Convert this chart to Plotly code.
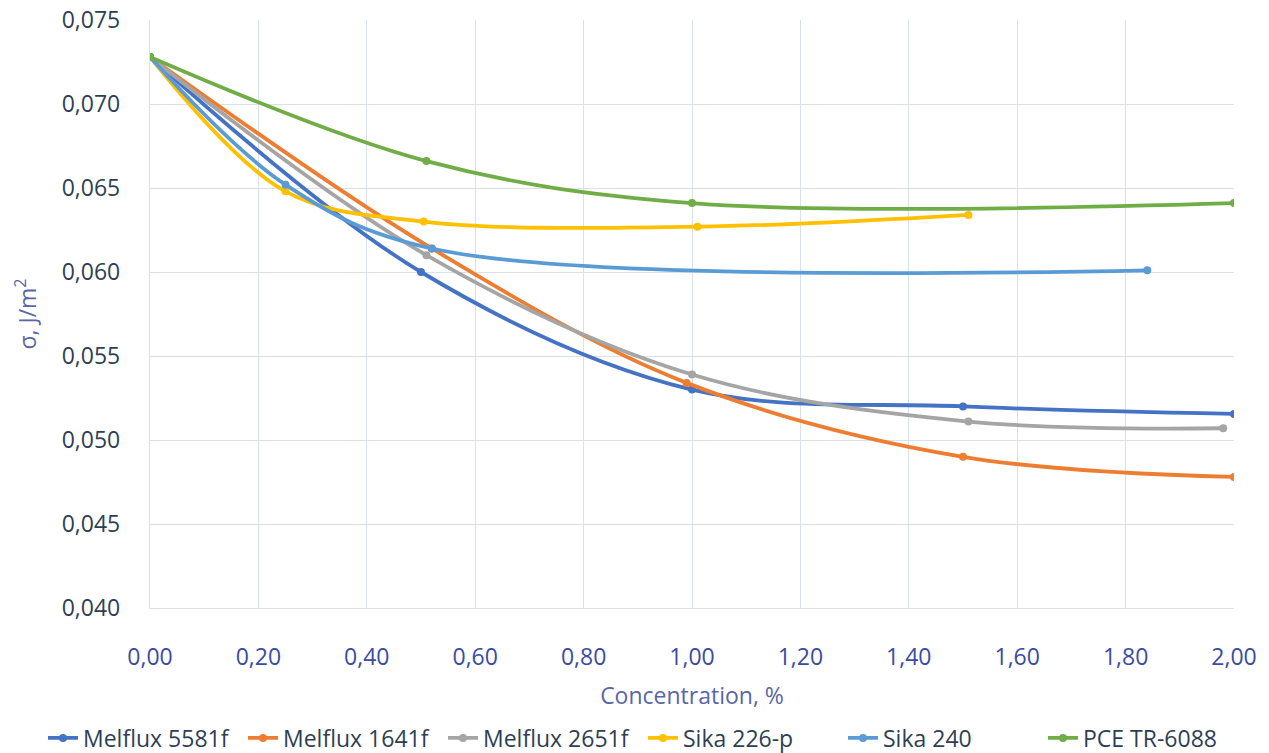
import plotly.graph_objects as go

series_names = ["Melflux 5581f", "Melflux 1641f", "Melflux 2651f", "Sika 226-p", "Sika 240", "PCE TR-6088"]

x_5581 = [0.0, 0.50, 1.00, 1.50, 2.00]
y_5581 = [0.0728, 0.0600, 0.0530, 0.0520, 0.05155]

x_1641 = [0.0, 0.52, 0.99, 1.50, 2.00]
y_1641 = [0.0728, 0.0614, 0.0534, 0.0490, 0.0478]

x_2651 = [0.0, 0.51, 1.00, 1.51, 1.98]
y_2651 = [0.0728, 0.0610, 0.0539, 0.0511, 0.0507]

x_226 = [0.0, 0.25, 0.505, 1.01, 1.51]
y_226 = [0.0728, 0.0648, 0.0630, 0.0627, 0.0634]

x_240 = [0.0, 0.25, 0.52, 1.84]
y_240 = [0.0728, 0.0652, 0.0614, 0.0601]

x_pce = [0.0, 0.51, 1.00, 2.00]
y_pce = [0.0728, 0.0666, 0.0641, 0.0641]

x_ticks = [0.0, 0.2, 0.4, 0.6, 0.8, 1.0, 1.2, 1.4, 1.6, 1.8, 2.0]
y_ticks = [0.040, 0.045, 0.050, 0.055, 0.060, 0.065, 0.070, 0.075]

colors = ["#4472C4", "#ED7D31", "#A5A5A5", "#FFC000", "#5B9BD5", "#70AD47"]

data = [(x_5581, y_5581), (x_1641, y_1641), (x_2651, y_2651),
        (x_226, y_226), (x_240, y_240), (x_pce, y_pce)]

fig = go.Figure()
for name, (xs, ys), c in zip(series_names, data, colors):
    fig.add_trace(go.Scatter(
        x=xs, y=ys, name=name, mode="lines+markers",
        line=dict(color=c, width=3.8, shape="spline", smoothing=1.0),
        marker=dict(color=c, size=8),
    ))

font_family = "Open Sans, DejaVu Sans, sans-serif"
grid_c = "#D9E2EC"

fig.update_layout(
    width=1269, height=753,
    paper_bgcolor="white", plot_bgcolor="white",
    separators=", ",
    margin=dict(l=142, r=43, t=12, b=153, autoexpand=False),
    font=dict(family=font_family, size=23, color="#2E3F54"),
    showlegend=True,
    legend=dict(orientation="h", xref="paper", yref="paper",
                x=-0.0987, xanchor="left", y=-0.221, yanchor="middle",
                font=dict(size=23, color="#2E3F54"), itemwidth=30,
                entrywidth=155, entrywidthmode="pixels",
                tracegroupgap=0),
    xaxis=dict(
        range=[0, 2.0], tickvals=x_ticks, tickformat=".2f",
        showgrid=True, gridcolor=grid_c, gridwidth=1.3,
        showline=True, linecolor=grid_c, linewidth=1.3,
        zeroline=False, ticks="", ticklabelstandoff=28, automargin=True,
        ticklabeloverflow="allow",
        tickfont=dict(size=23, color="#3A4BA3"),
        title=dict(text="Concentration, %", font=dict(size=23, color="#5A66A8"), standoff=17),
    ),
    yaxis=dict(
        range=[0.040, 0.075], tickvals=y_ticks, tickformat=".3f",
        showgrid=True, gridcolor=grid_c, gridwidth=1.3,
        showline=True, linecolor=grid_c, linewidth=1.3,
        zeroline=False, ticks="", ticklabelstandoff=24, automargin=True,
        ticklabeloverflow="allow",
        tickfont=dict(size=23, color="#2E3F54"),
        title=dict(text="σ, J/m<sup>2</sup>", font=dict(size=23, color="#5A66A8"), standoff=18),
    ),
)

fig.write_html("out.html")
